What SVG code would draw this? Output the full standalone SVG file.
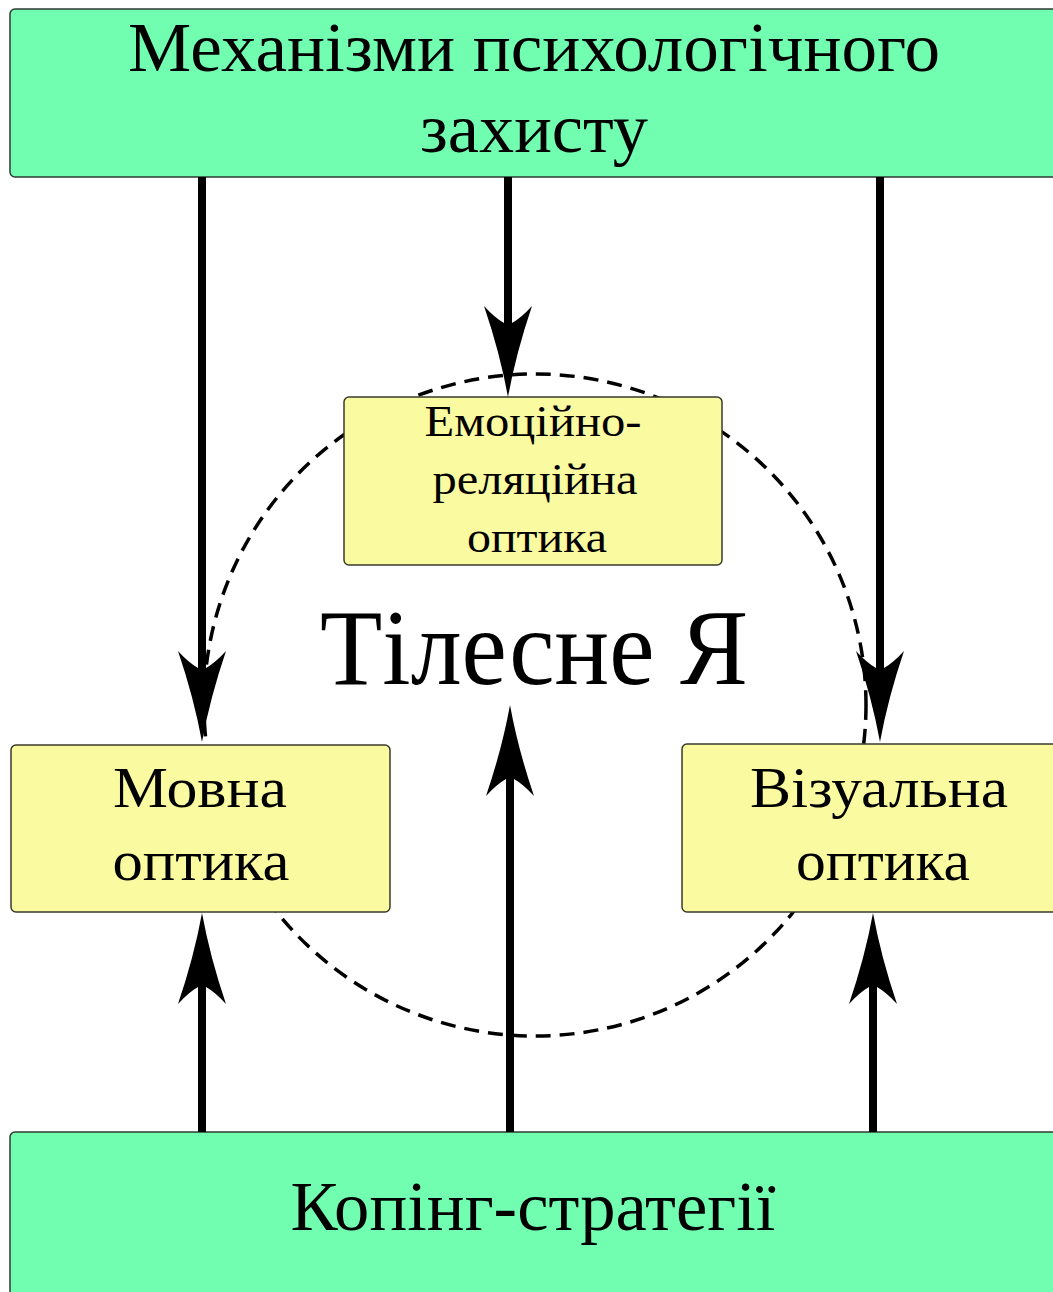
<svg xmlns="http://www.w3.org/2000/svg" width="1053" height="1292" viewBox="0 0 1053 1292">
<style>
.green{fill:#71FEB0;stroke:#2f3a33;stroke-width:1.5}
.yellow{fill:#FAFAA0;stroke:#3a3a2a;stroke-width:1.5}
text{font-family:"Liberation Serif","Times New Roman",serif;fill:#000;text-anchor:middle}
.conn{stroke:#000;stroke-width:8;fill:none;marker-end:url(#ah)}
.ring{fill:none;stroke:#000;stroke-width:3.5;stroke-dasharray:15 9}
</style>
<defs>
<marker id="ah" markerUnits="userSpaceOnUse" orient="auto" refX="0" refY="0" markerWidth="120" markerHeight="60" viewBox="-20 -30 100 60" overflow="visible">
<path d="M74,0 Q30,-8 -17,-24 Q-5,-13 0,-4 L0,4 Q-5,13 -17,24 Q30,8 74,0 Z" fill="#000"/>
</marker>
</defs>
<rect width="1053" height="1292" fill="#fff"/>
<circle class="ring" cx="535" cy="705" r="331"/>
<g id="top">
<rect class="green" x="10" y="9" width="1060" height="168" rx="5"/>
<text x="534" y="71" font-size="70" textLength="812" lengthAdjust="spacingAndGlyphs">Механізми психологічного</text>
<text x="534" y="152" font-size="70" textLength="228" lengthAdjust="spacingAndGlyphs">захисту</text>
</g>
<g id="emo">
<rect class="yellow" x="344" y="397" width="378" height="168" rx="5"/>
<text x="533" y="436" font-size="45" textLength="217" lengthAdjust="spacingAndGlyphs">Емоційно-</text>
<text x="535" y="494" font-size="45" textLength="205" lengthAdjust="spacingAndGlyphs">реляційна</text>
<text x="537" y="552" font-size="45" textLength="140" lengthAdjust="spacingAndGlyphs">оптика</text>
</g>
<g id="self">
<text x="534" y="684" font-size="107" textLength="428" lengthAdjust="spacingAndGlyphs">Тілесне Я</text>
</g>
<g id="movna">
<rect class="yellow" x="11" y="745" width="379" height="167" rx="5"/>
<text x="200" y="807" font-size="58" textLength="174" lengthAdjust="spacingAndGlyphs">Мовна</text>
<text x="201" y="880" font-size="58" textLength="177" lengthAdjust="spacingAndGlyphs">оптика</text>
</g>
<g id="vizual">
<rect class="yellow" x="682" y="744" width="390" height="168" rx="5"/>
<text x="879" y="807" font-size="58" textLength="258" lengthAdjust="spacingAndGlyphs">Візуальна</text>
<text x="883" y="880" font-size="58" textLength="174" lengthAdjust="spacingAndGlyphs">оптика</text>
</g>
<g id="coping">
<rect class="green" x="10" y="1132" width="1060" height="180" rx="5"/>
<text x="533" y="1230" font-size="70" textLength="485" lengthAdjust="spacingAndGlyphs">Копінг-стратегії</text>
</g>
<g id="connectors">
<path class="conn" d="M202,177 V668"/>
<path class="conn" d="M508,177 V323"/>
<path class="conn" d="M880,177 V668"/>
<path class="conn" d="M202,1132 V987"/>
<path class="conn" d="M510,1132 V779"/>
<path class="conn" d="M873,1132 V987"/>
</g>
</svg>
